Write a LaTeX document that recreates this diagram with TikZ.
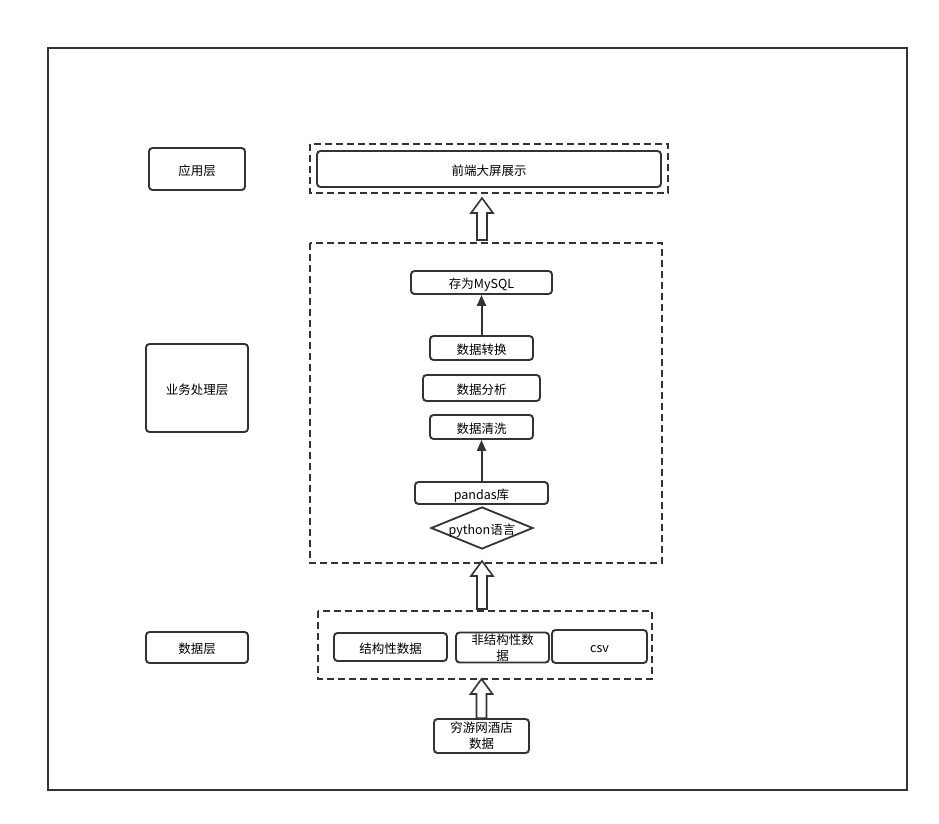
\documentclass[tikz,border=0pt]{standalone}
\usepackage{fontspec}
\setmainfont{Noto Sans CJK SC}
\usetikzlibrary{shapes.geometric,calc,arrows.meta}
\definecolor{ink}{HTML}{333333}
\tikzset{
  box/.style={draw=ink,line width=1.9pt,rounded corners=3.5pt,inner sep=0pt,align=center,font=\fontsize{12.5}{16}\selectfont},
  one/.style={text height=12.5pt,text depth=0pt},
  dbox/.style={draw=ink,line width=1.8pt,dash pattern=on 7pt off 4pt},
  thin/.style={draw=ink,line width=2pt,-{Triangle[length=11pt,width=9pt]}},
  hollow/.style={draw=ink,line width=1.6pt,fill=white}
}
\newcommand{\blockarrow}[2]{%
  \draw[hollow] let \p1=(#1), \p2=(#2) in
    (\x1-5pt,\y1) -- (\x1-5pt,\y2-15pt) -- (\x1-11pt,\y2-15pt) -- (\x1,\y2)
    -- (\x1+11pt,\y2-15pt) -- (\x1+5pt,\y2-15pt) -- (\x1+5pt,\y1) -- cycle;}
\begin{document}
\begin{tikzpicture}[x=1pt,y=-1pt]
\useasboundingbox (0,0) rectangle (939,823);
\draw[ink,line width=1.5pt] (48,48) rectangle (907,790);
% layer labels
\node[box,one,minimum width=96pt,minimum height=42pt] (app) at (197,169) {应用层};
\node[box,one,minimum width=102pt,minimum height=88pt] (biz) at (197,388) {业务处理层};
\node[box,one,minimum width=102pt,minimum height=31pt] (dat) at (197,647.5) {数据层};
% top group
\draw[dbox] (310,144) rectangle (668,193);
\coordinate (topb) at (482,198);
\node[box,one,minimum width=344pt,minimum height=36pt] (front) at (489,169) {前端大屏展示};
% middle group
\draw[dbox] (310,243) rectangle (662,563);
\coordinate (midt) at (482,240);
\coordinate (midb) at (482,561);
\node[box,one,minimum width=141pt,minimum height=23pt] (mysql) at (481.5,282.5) {存为MySQL};
\node[box,one,minimum width=103pt,minimum height=24pt] (conv) at (481.5,348) {数据转换};
\node[box,one,minimum width=117pt,minimum height=26pt] (ana) at (481.5,388) {数据分析};
\node[box,one,minimum width=103pt,minimum height=24pt] (clean) at (481.5,427) {数据清洗};
\node[box,one,minimum width=133pt,minimum height=22pt] (pd) at (481.5,493) {pandas库};
\node[draw=ink,line width=1.8pt,diamond,aspect=2.45,minimum width=102pt,minimum height=42pt,inner sep=0pt,font=\fontsize{12.5}{15}\selectfont,text height=12.5pt,text depth=0pt] (py) at (482,528) {python语言};
\draw[thin] (conv.north) -- (mysql.south);
\draw[thin] (pd.north) -- (clean.south);
% bottom group
\draw[dbox] (318,611) rectangle (652,679);
\coordinate (bott) at (482,609);
\coordinate (botb) at (482,679);
\node[box,one,minimum width=113pt,minimum height=28pt] (s1) at (390.5,647) {结构性数据};
\node[box,minimum width=93pt,minimum height=30pt] (s2) at (502.5,647.5) {非结构性数\\据};
\node[box,one,minimum width=95pt,minimum height=33pt] (s3) at (599.5,646.5) {csv};
\node[box,minimum width=95pt,minimum height=34pt] (src) at (481.5,736) {穷游网酒店\\数据};
% block arrows
\blockarrow{midt}{topb}
\blockarrow{bott}{midb}
\blockarrow{src.north}{botb}
\end{tikzpicture}
\end{document}
